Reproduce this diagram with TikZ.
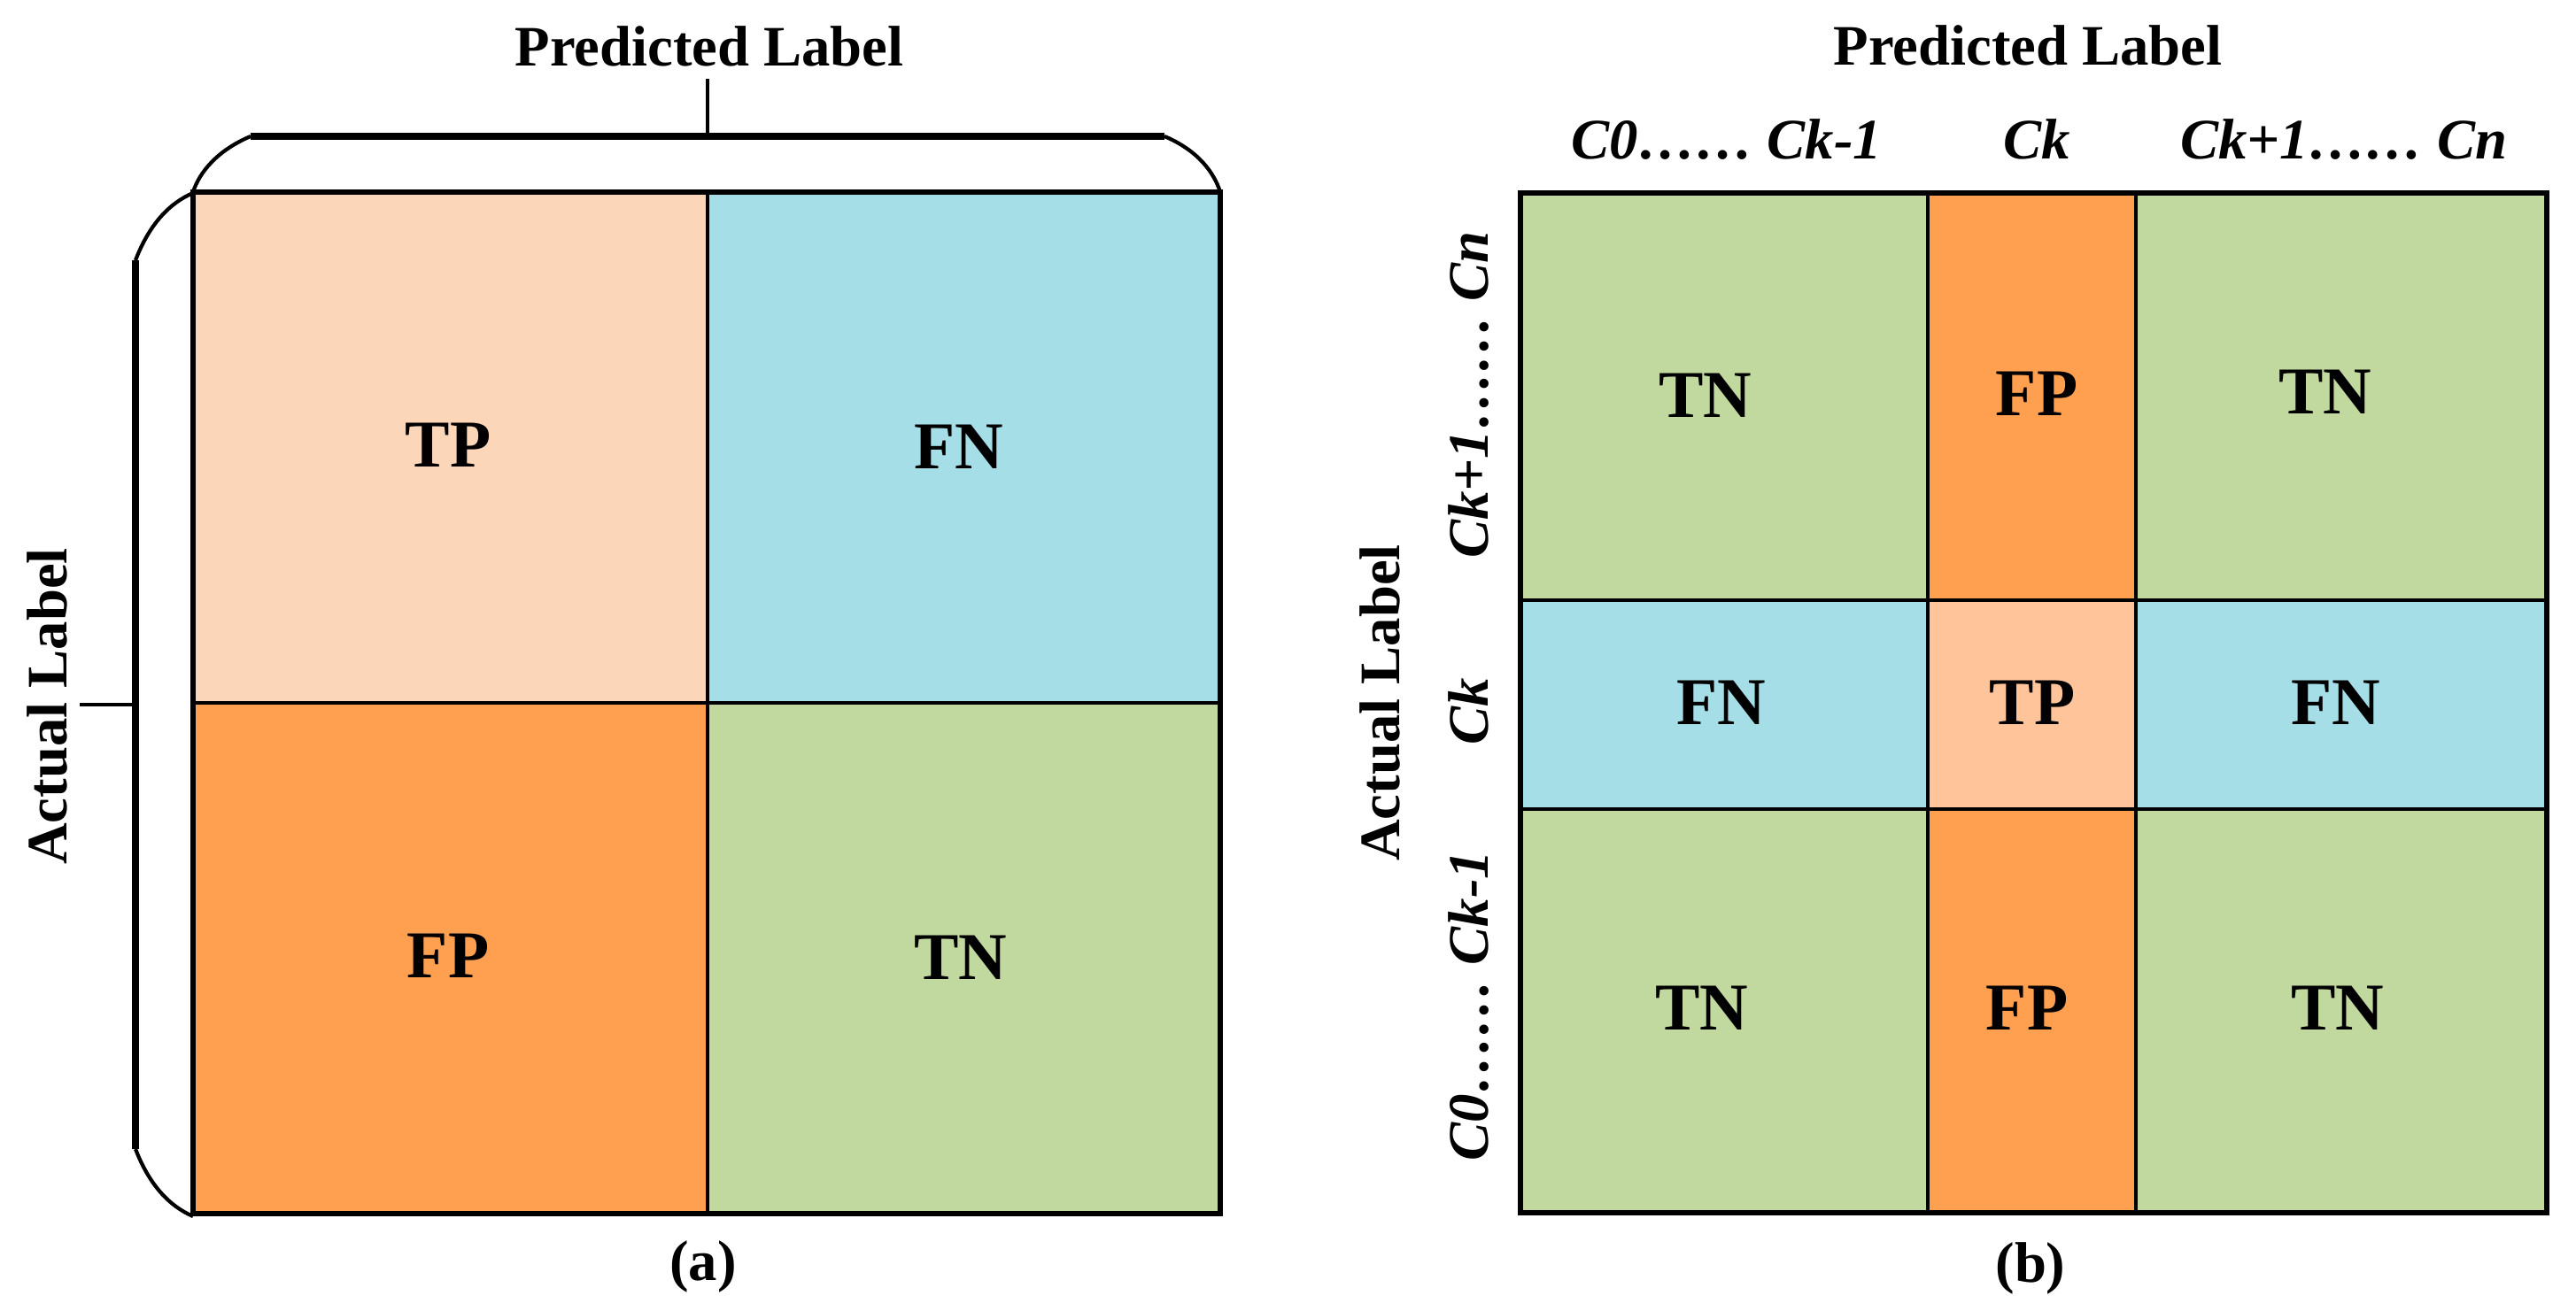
\documentclass[tikz,border=0pt]{standalone}
\usepackage{fontspec}
\setmainfont{Liberation Serif}
\usetikzlibrary{positioning}
\definecolor{tplight}{HTML}{FCD6B8}
\definecolor{tpmid}{HTML}{FFC499}
\definecolor{fnblue}{HTML}{A6DEE8}
\definecolor{fporange}{HTML}{FF9F50}
\definecolor{tngreen}{HTML}{C1D89E}

\begin{document}
\begin{tikzpicture}[
	cell/.style = {draw, line width=1pt},
	frame/.style = {draw, line width=1.7pt},
	arc/.style = {line width=1.2pt},
	bar/.style = {line width=2pt},
	tick/.style = {line width=0.9pt},
	res/.style = {font=\fontsize{21.5}{26}\selectfont\bfseries},
	axis/.style = {font=\fontsize{18.4}{22}\selectfont\bfseries, anchor=base},
	cls/.style = {font=\fontsize{18.4}{22}\selectfont\bfseries\itshape, anchor=base}]
	\useasboundingbox (0,0) rectangle (29.09,-14.81);

	% (a) binary confusion matrix
	\filldraw[cell, fill=tplight] (2.18,-2.17) rectangle (7.99,-7.94);
	\filldraw[cell, fill=fnblue] (7.99,-2.17) rectangle (13.78,-7.94);
	\filldraw[cell, fill=fporange] (2.18,-7.94) rectangle (7.99,-13.71);
	\filldraw[cell, fill=tngreen] (7.99,-7.94) rectangle (13.78,-13.71);
	\draw[frame] (2.18,-2.17) rectangle (13.78,-13.71);
	\node[res] (tpa) at (5.06,-5.03) {TP};
	\node[res] (fna) at (10.83,-5.05) {FN};
	\node[res] (fpa) at (5.06,-10.80) {FP};
	\node[res] (tna) at (10.85,-10.82) {TN};

	\coordinate (pl) at (2.83,-1.54);
	\coordinate (pr) at (13.15,-1.54);
	\coordinate (pm) at (7.99,-1.54);
	\coordinate (pt) at (7.99,-0.89);
	\draw[bar] (pl) -- (pr);
	\draw[arc] (pl) .. controls (2.45,-1.70) and (2.25,-1.95) .. (2.18,-2.17);
	\draw[arc] (pr) .. controls (13.53,-1.70) and (13.71,-1.95) .. (13.78,-2.17);
	\draw[tick] (pt) -- (pm);
	\node[axis] (preda) at (8.01,-0.75) {Predicted Label};

	\coordinate (at) at (1.53,-2.94);
	\coordinate (ab) at (1.53,-12.98);
	\coordinate (am) at (1.53,-7.96);
	\coordinate (al) at (0.90,-7.96);
	\draw[bar] (at) -- (ab);
	\draw[arc] (at) .. controls (1.68,-2.55) and (1.90,-2.30) .. (2.18,-2.18);
	\draw[arc] (ab) .. controls (1.68,-13.37) and (1.90,-13.62) .. (2.18,-13.74);
	\draw[tick] (al) -- (am);
	\node[axis, rotate=90] (acta) at (0.75,-7.98) {Actual Label};

	\node[axis, anchor=center] (capa) at (7.94,-14.31) {(a)};

	% (b) one class against the rest
	\filldraw[cell, fill=tngreen] (17.17,-2.18) rectangle (21.77,-6.78);
	\filldraw[cell, fill=fporange] (21.77,-2.18) rectangle (24.12,-6.78);
	\filldraw[cell, fill=tngreen] (24.12,-2.18) rectangle (28.76,-6.78);
	\filldraw[cell, fill=fnblue] (17.17,-6.78) rectangle (21.77,-9.14);
	\filldraw[cell, fill=tpmid] (21.77,-6.78) rectangle (24.12,-9.14);
	\filldraw[cell, fill=fnblue] (24.12,-6.78) rectangle (28.76,-9.14);
	\filldraw[cell, fill=tngreen] (17.17,-9.14) rectangle (21.77,-13.70);
	\filldraw[cell, fill=fporange] (21.77,-9.14) rectangle (24.12,-13.70);
	\filldraw[cell, fill=tngreen] (24.12,-9.14) rectangle (28.76,-13.70);
	\draw[frame] (17.17,-2.18) rectangle (28.76,-13.70);

	\node[res] (tn1) at (19.26,-4.47) {TN};
	\node[res] (fp1) at (23.00,-4.45) {FP};
	\node[res] (tn2) at (26.26,-4.43) {TN};
	\node[res] (fn1) at (19.44,-7.94) {FN};
	\node[res] (tpb) at (22.95,-7.94) {TP};
	\node[res] (fn2) at (26.38,-7.94) {FN};
	\node[res] (tn3) at (19.22,-11.39) {TN};
	\node[res] (fp2) at (22.89,-11.39) {FP};
	\node[res] (tn4) at (26.40,-11.39) {TN};

	\node[axis] (predb) at (22.90,-0.74) {Predicted Label};
	\node[cls] (cola) at (19.50,-1.80) {C0…… Ck-1};
	\node[cls] (colk) at (23.00,-1.80) {Ck};
	\node[cls] (colb) at (26.47,-1.80) {Ck+1…… Cn};

	\node[axis, rotate=90] (actb) at (15.80,-7.94) {Actual Label};
	\node[cls, rotate=90] (rowa) at (16.80,-4.46) {Ck+1…… Cn};
	\node[cls, rotate=90] (rowk) at (16.80,-8.04) {Ck};
	\node[cls, rotate=90] (rowb) at (16.80,-11.36) {C0…… Ck-1};

	\node[axis, anchor=center] (capb) at (22.93,-14.33) {(b)};
\end{tikzpicture}
\end{document}
